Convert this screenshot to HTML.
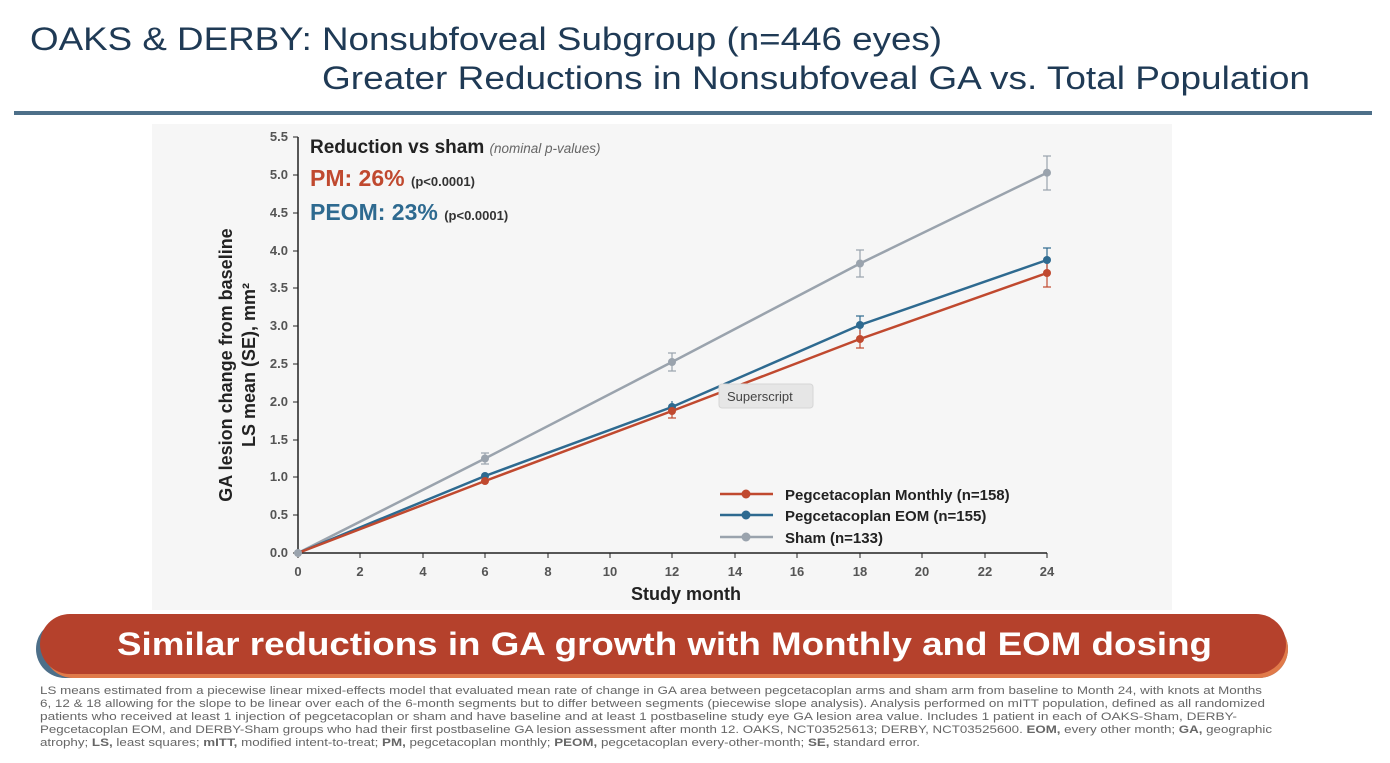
<!DOCTYPE html>
<html><head><meta charset="utf-8"><style>
body{margin:0;width:1390px;height:758px;background:#fff;overflow:hidden;font-family:"Liberation Sans",sans-serif;}
</style></head><body>
<svg width="1390" height="758" xmlns="http://www.w3.org/2000/svg" font-family="Liberation Sans, sans-serif">
<text x="30" y="50" font-size="32" fill="#1f3a55" textLength="912" lengthAdjust="spacingAndGlyphs">OAKS &amp; DERBY: Nonsubfoveal Subgroup (n=446 eyes)</text>
<text x="322" y="89" font-size="32" fill="#1f3a55" textLength="988" lengthAdjust="spacingAndGlyphs">Greater Reductions in Nonsubfoveal GA vs. Total Population</text>
<rect x="14" y="111" width="1358" height="4" fill="#4d6f89"/>
<rect x="152" y="124" width="1020" height="486" fill="#f6f6f6"/>
<g stroke="#222" stroke-width="1.5">
<line x1="298" y1="137" x2="298" y2="553"/>
<line x1="298" y1="553" x2="1047" y2="553"/>
</g>
<g font-size="13" font-weight="bold" fill="#555" text-anchor="end">
<text x="288" y="557">0.0</text><text x="288" y="519">0.5</text><text x="288" y="481">1.0</text><text x="288" y="444">1.5</text><text x="288" y="406">2.0</text><text x="288" y="368">2.5</text><text x="288" y="330">3.0</text><text x="288" y="292">3.5</text><text x="288" y="255">4.0</text><text x="288" y="217">4.5</text><text x="288" y="179">5.0</text><text x="288" y="141">5.5</text>
</g>
<g stroke="#222" stroke-width="1">
<line x1="293" y1="553" x2="298" y2="553"/><line x1="293" y1="515" x2="298" y2="515"/><line x1="293" y1="477" x2="298" y2="477"/><line x1="293" y1="440" x2="298" y2="440"/><line x1="293" y1="402" x2="298" y2="402"/><line x1="293" y1="364" x2="298" y2="364"/><line x1="293" y1="326" x2="298" y2="326"/><line x1="293" y1="288" x2="298" y2="288"/><line x1="293" y1="251" x2="298" y2="251"/><line x1="293" y1="213" x2="298" y2="213"/><line x1="293" y1="175" x2="298" y2="175"/><line x1="293" y1="137" x2="298" y2="137"/>
</g>
<g stroke="#222" stroke-width="1">
<line x1="298" y1="553" x2="298" y2="558"/><line x1="360" y1="553" x2="360" y2="558"/><line x1="423" y1="553" x2="423" y2="558"/><line x1="485" y1="553" x2="485" y2="558"/><line x1="548" y1="553" x2="548" y2="558"/><line x1="610" y1="553" x2="610" y2="558"/><line x1="672" y1="553" x2="672" y2="558"/><line x1="735" y1="553" x2="735" y2="558"/><line x1="797" y1="553" x2="797" y2="558"/><line x1="860" y1="553" x2="860" y2="558"/><line x1="922" y1="553" x2="922" y2="558"/><line x1="985" y1="553" x2="985" y2="558"/><line x1="1047" y1="553" x2="1047" y2="558"/>
</g>
<g font-size="13" font-weight="bold" fill="#555" text-anchor="middle">
<text x="298" y="576">0</text><text x="360" y="576">2</text><text x="423" y="576">4</text><text x="485" y="576">6</text><text x="548" y="576">8</text><text x="610" y="576">10</text><text x="672" y="576">12</text><text x="735" y="576">14</text><text x="797" y="576">16</text><text x="860" y="576">18</text><text x="922" y="576">20</text><text x="985" y="576">22</text><text x="1047" y="576">24</text>
</g>
<text x="686" y="600" font-size="18" font-weight="bold" fill="#222" text-anchor="middle">Study month</text>
<g transform="translate(232,365) rotate(-90)" font-size="18" font-weight="bold" fill="#222" text-anchor="middle">
<text x="0" y="0">GA lesion change from baseline</text>
<text x="0" y="23">LS mean (SE), mm²</text>
</g>
<text x="310" y="153" font-size="19" font-weight="bold" fill="#222">Reduction vs sham <tspan font-size="13.5" font-weight="normal" font-style="italic" fill="#666">(nominal p-values)</tspan></text>
<text x="310" y="186" font-size="23" font-weight="bold" fill="#c0492f">PM: 26% <tspan font-size="13" fill="#333">(p&lt;0.0001)</tspan></text>
<text x="310" y="220" font-size="23" font-weight="bold" fill="#2e6a90">PEOM: 23% <tspan font-size="13" fill="#333">(p&lt;0.0001)</tspan></text>
<g stroke-width="1.2">
<g stroke="#9aa3ad"><line x1="485" y1="453" x2="485" y2="464"/><line x1="481" y1="453" x2="489" y2="453"/><line x1="481" y1="464" x2="489" y2="464"/>
<line x1="672" y1="353" x2="672" y2="371"/><line x1="668" y1="353" x2="676" y2="353"/><line x1="668" y1="371" x2="676" y2="371"/>
<line x1="860" y1="250" x2="860" y2="277"/><line x1="856" y1="250" x2="864" y2="250"/><line x1="856" y1="277" x2="864" y2="277"/>
<line x1="1047" y1="156" x2="1047" y2="190"/><line x1="1043" y1="156" x2="1051" y2="156"/><line x1="1043" y1="190" x2="1051" y2="190"/></g>
<g stroke="#2e6a90"><line x1="672" y1="401" x2="672" y2="413"/><line x1="860" y1="316" x2="860" y2="334"/><line x1="856" y1="316" x2="864" y2="316"/><line x1="1047" y1="248" x2="1047" y2="272"/><line x1="1043" y1="248" x2="1051" y2="248"/></g>
<g stroke="#c0492f"><line x1="672" y1="405" x2="672" y2="418"/><line x1="668" y1="418" x2="676" y2="418"/><line x1="860" y1="330" x2="860" y2="348"/><line x1="856" y1="348" x2="864" y2="348"/><line x1="1047" y1="262" x2="1047" y2="287"/><line x1="1043" y1="287" x2="1051" y2="287"/></g>
</g>
<polyline points="298,553 485,458.5 672,362 860,263.5 1047,172.7" fill="none" stroke="#9aa3ad" stroke-width="2.5"/>
<polyline points="298,553 485,476 672,407 860,325 1047,260" fill="none" stroke="#2e6a90" stroke-width="2.5"/>
<polyline points="298,553 485,481 672,411 860,339 1047,273" fill="none" stroke="#c0492f" stroke-width="2.5"/>
<g fill="#9aa3ad"><circle cx="298" cy="553" r="4"/><circle cx="485" cy="458.5" r="4"/><circle cx="672" cy="362" r="4"/><circle cx="860" cy="263.5" r="4"/><circle cx="1047" cy="172.7" r="4"/></g>
<g fill="#2e6a90"><circle cx="485" cy="476" r="4"/><circle cx="672" cy="407" r="4"/><circle cx="860" cy="325" r="4"/><circle cx="1047" cy="260" r="4"/></g>
<g fill="#c0492f"><circle cx="485" cy="481" r="4"/><circle cx="672" cy="411" r="4"/><circle cx="860" cy="339" r="4"/><circle cx="1047" cy="273" r="4"/></g>
<rect x="719" y="384" width="94" height="24" rx="3" fill="#e6e6e6" stroke="#d6d6d6"/>
<text x="727" y="401" font-size="13" fill="#444">Superscript</text>
<g stroke-width="2.5"><line x1="720" y1="494" x2="773" y2="494" stroke="#c0492f"/><line x1="720" y1="515" x2="773" y2="515" stroke="#2e6a90"/><line x1="720" y1="537" x2="773" y2="537" stroke="#9aa3ad"/></g>
<circle cx="746" cy="494" r="4.5" fill="#c0492f"/><circle cx="746" cy="515" r="4.5" fill="#2e6a90"/><circle cx="746" cy="537" r="4.5" fill="#9aa3ad"/>
<g font-size="15" font-weight="bold" fill="#222"><text x="785" y="500">Pegcetacoplan Monthly (n=158)</text><text x="785" y="521">Pegcetacoplan EOM (n=155)</text><text x="785" y="543">Sham (n=133)</text></g>
<rect x="36" y="620" width="1252" height="58" rx="29" fill="#4d6f89"/>
<rect x="44" y="620" width="1244" height="58" rx="29" fill="#e07a4a"/>
<rect x="40" y="614" width="1246" height="60" rx="30" fill="#b5412c"/>
<text x="117" y="655" font-size="32" font-weight="bold" fill="#fff" textLength="1095" lengthAdjust="spacingAndGlyphs">Similar reductions in GA growth with Monthly and EOM dosing</text>
<g font-size="11" fill="#666">
<text x="40" y="694" textLength="1222" lengthAdjust="spacingAndGlyphs">LS means estimated from a piecewise linear mixed-effects model that evaluated mean rate of change in GA area between pegcetacoplan arms and sham arm from baseline to Month 24, with knots at Months</text>
<text x="40" y="707" textLength="1225" lengthAdjust="spacingAndGlyphs">6, 12 &amp; 18 allowing for the slope to be linear over each of the 6-month segments but to differ between segments (piecewise slope analysis). Analysis performed on mITT population, defined as all randomized</text>
<text x="40" y="720" textLength="1197" lengthAdjust="spacingAndGlyphs">patients who received at least 1 injection of pegcetacoplan or sham and have baseline and at least 1 postbaseline study eye GA lesion area value. Includes 1 patient in each of OAKS-Sham, DERBY-</text>
<text x="40" y="733" textLength="1232" lengthAdjust="spacingAndGlyphs">Pegcetacoplan EOM, and DERBY-Sham groups who had their first postbaseline GA lesion assessment after month 12. OAKS, NCT03525613; DERBY, NCT03525600. <tspan font-weight="bold">EOM,</tspan> every other month; <tspan font-weight="bold">GA,</tspan> geographic</text>
<text x="40" y="746" textLength="880" lengthAdjust="spacingAndGlyphs">atrophy; <tspan font-weight="bold">LS,</tspan> least squares; <tspan font-weight="bold">mITT,</tspan> modified intent-to-treat; <tspan font-weight="bold">PM,</tspan> pegcetacoplan monthly; <tspan font-weight="bold">PEOM,</tspan> pegcetacoplan every-other-month; <tspan font-weight="bold">SE,</tspan> standard error.</text>
</g>
</svg>
</body></html>
